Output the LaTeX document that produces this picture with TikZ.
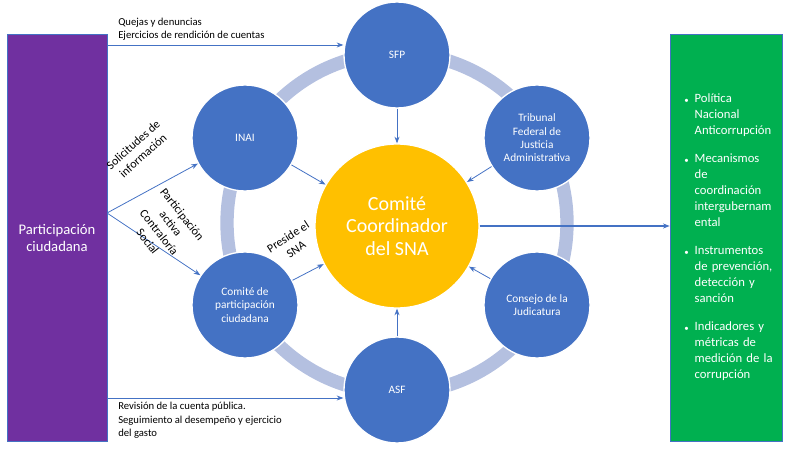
\documentclass[tikz,border=0pt]{standalone}
\usepackage{fontspec}
\setmainfont{Carlito}
\usetikzlibrary{arrows.meta}
\definecolor{circblue}{HTML}{4472C4}
\definecolor{ringblue}{HTML}{B4C0E0}
\definecolor{snayellow}{HTML}{FFC000}
\definecolor{boxpurple}{HTML}{7030A0}
\definecolor{boxgreen}{HTML}{00B050}
\newcommand{\bul}[1]{\hangindent=8pt\hangafter=1\noindent\makebox[8pt][l]{\tiny$\bullet$}#1\par\vspace{9pt}}
\begin{document}
\begin{tikzpicture}[x=0.75pt,y=-0.75pt,
  actor/.style={circle,fill=circblue,draw=white,line width=1pt,minimum size=106pt*0.75,inner sep=1pt,
    text=white,align=center,font=\fontsize{8.5}{10}\selectfont},
  link/.style={draw=circblue,-{Stealth[length=5pt]},line width=0.6pt},
  note/.style={font=\fontsize{8}{10}\selectfont,align=left,inner sep=0pt}]
  \useasboundingbox (0,0) rectangle (786,449);
  % ring
  \draw[ringblue,line width=10pt] (397,223) circle (170);
  % side boxes
  \node[fill=boxpurple,draw=circblue,minimum width=100*0.75pt,minimum height=407*0.75pt,
    text=white,font=\fontsize{11}{13}\selectfont,align=center] (part) at (57,238) {Participación\\ciudadana};
  \node[fill=boxgreen,draw=circblue,minimum width=112*0.75pt,minimum height=407*0.75pt] (out) at (726,238) {};
  \node[text=white,font=\fontsize{9.5}{12}\selectfont,text width=90*0.75pt,inner sep=0pt,anchor=north] (list) at (729,93) {%
    \hyphenpenalty=10000\exhyphenpenalty=10000\tolerance=10000
    \bul{Política Nacional Anticorrupción}
    \bul{Mecanismos de coordinación intergubernam ental}
    \bul{Instrumentos de prevención, detección y sanción}
    \bul{Indicadores y métricas de medición de la corrupción}};
  % circles
  \node[actor] (sfp) at (397,55) {SFP};
  \node[actor] (inai) at (245,138) {INAI};
  \node[actor] (tfja) at (537,138) {Tribunal\\Federal de\\Justicia\\Administrativa};
  \node[actor] (cpc) at (245,305) {Comité de\\participación\\ciudadana};
  \node[actor] (cj) at (537,305) {Consejo de la\\Judicatura};
  \node[actor] (asf) at (397,390) {ASF};
  \node[circle,fill=snayellow,draw=white,line width=1pt,minimum size=164*0.75pt,text=white,align=center,
    font=\fontsize{15}{17}\selectfont] (sna) at (397,226) {Comité\\Coordinador\\del SNA};
  % arrows to center
  \draw[link] (sfp) -- (sna);
  \draw[link] (inai) -- (sna);
  \draw[link] (tfja) -- (sna);
  \draw[link] (cj) -- (sna);
  \draw[link] (asf) -- (sna);
  \draw[link] (cpc) -- (sna);
  \node[note,align=center,rotate=33,font=\fontsize{9}{11}\selectfont] (t5) at (292,243) {Preside el\\SNA};
  \draw[link,line width=1.2pt] (sna) -- (out.west |- sna);
  % from participation
  \coordinate (p1) at (107,45);
  \coordinate (p2) at (107,398);
  \coordinate (p3) at (107,213);
  \draw[link] (p1) -- (sfp.west |- p1);
  \node[note,anchor=south west] (t1) at (118,41) {Quejas y denuncias\\Ejercicios de rendición de cuentas};
  \draw[link] (p2) -- (asf.west |- p2);
  \node[note,anchor=north west] (t2) at (118,402) {Revisión de la cuenta pública.\\Seguimiento al desempeño y ejercicio\\del gasto};
  \draw[link] (p3) -- (inai);
  \draw[link] (p3) -- (cpc);
  \node[note,align=center,rotate=42,font=\fontsize{9}{11}\selectfont] (t6) at (138,150) {Solicitudes de\\información};
  \node[note,align=center,rotate=-52,font=\fontsize{9}{11}\selectfont] (t3) at (165,228) {Participación\\activa\\Contraloría\\Social};
\end{tikzpicture}
\end{document}
